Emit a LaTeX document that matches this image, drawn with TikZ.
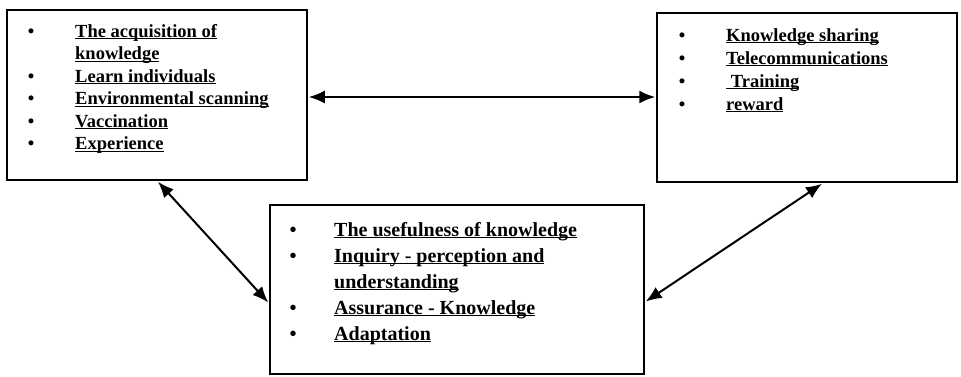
\documentclass[tikz,border=0pt]{standalone}
\usepackage{fontspec}
\setmainfont{Liberation Serif}
\usetikzlibrary{arrows.meta}
\newcommand\ulx[1]{\setbox0\hbox{#1}\rlap{\rule[-2.4pt]{\wd0}{1.4pt}}\box0}
\tikzset{
  box/.style={draw, line width=1.5pt, inner sep=0pt},
  itm/.style={anchor=base west, inner sep=0pt, font=\bfseries\fontsize{18.5}{22}\selectfont},
  bul/.style={anchor=base, inner sep=0pt, font=\bfseries\fontsize{18.5}{22}\selectfont},
  itmC/.style={anchor=base west, inner sep=0pt, font=\bfseries\fontsize{20}{24}\selectfont},
  bulC/.style={anchor=base, inner sep=0pt, font=\bfseries\fontsize{20}{24}\selectfont},
  link/.style={line width=2pt, {Latex[length=16pt,width=13pt]}-{Latex[length=16pt,width=13pt]}}
}
\begin{document}
\begin{tikzpicture}[x=1pt,y=-1pt]
\useasboundingbox (0,0) rectangle (961,376);
% boxes
\node[box, minimum width=300pt, minimum height=170pt] (boxA) at (157,95) {};
\node[box, minimum width=300pt, minimum height=169pt] (boxB) at (807,97.5) {};
\node[box, minimum width=374pt, minimum height=169pt] (boxC) at (457,289.5) {};
% left box
\node[bul] (a1b) at (31,37) {\textbullet};
\node[itm] (a1) at (75,37) {\ulx{The acquisition of}};
\node[itm] (a1c) at (75,59.5) {\ulx{knowledge}};
\node[bul] (a2b) at (31,82) {\textbullet};
\node[itm] (a2) at (75,82) {\ulx{Learn individuals}};
\node[bul] (a3b) at (31,104.5) {\textbullet};
\node[itm] (a3) at (75,104.5) {\ulx{Environmental scanning}};
\node[bul] (a4b) at (31,127) {\textbullet};
\node[itm] (a4) at (75,127) {\ulx{Vaccination}};
\node[bul] (a5b) at (31,149.5) {\textbullet};
\node[itm] (a5) at (75,149.5) {\ulx{Experience}};
% right box
\node[bul] (b1b) at (682,41) {\textbullet};
\node[itm] (b1) at (726,41) {\ulx{Knowledge sharing}};
\node[bul] (b2b) at (682,64) {\textbullet};
\node[itm] (b2) at (726,64) {\ulx{Telecommunications}};
\node[bul] (b3b) at (682,87) {\textbullet};
\node[itm] (b3) at (726,87) {\ulx{\ Training}};
\node[bul] (b4b) at (682,110) {\textbullet};
\node[itm] (b4) at (726,110) {\ulx{reward}};
% bottom box
\node[bulC] (c1b) at (293,236) {\textbullet};
\node[itmC] (c1) at (334,236) {\ulx{The usefulness of knowledge}};
\node[bulC] (c2b) at (293,262) {\textbullet};
\node[itmC] (c2) at (334,262) {\ulx{Inquiry - perception and}};
\node[itmC] (c2c) at (334,288) {\ulx{understanding}};
\node[bulC] (c3b) at (293,314) {\textbullet};
\node[itmC] (c3) at (334,314) {\ulx{Assurance - Knowledge}};
\node[bulC] (c4b) at (293,340) {\textbullet};
\node[itmC] (c4) at (334,340) {\ulx{Adaptation}};
% connectors
\draw[link] ([xshift=1pt,yshift=-2pt]boxA.east) -- ([xshift=-1pt,yshift=-2pt]boxA.east -| boxB.west);
\draw[link] ([xshift=1pt,yshift=-1pt]boxA.south) -- ([xshift=-1pt,yshift=-13pt]boxC.west);
\draw[link] ([xshift=15pt,yshift=-1pt]boxB.south) -- ([xshift=1pt,yshift=-12pt]boxC.east);
\end{tikzpicture}
\end{document}
